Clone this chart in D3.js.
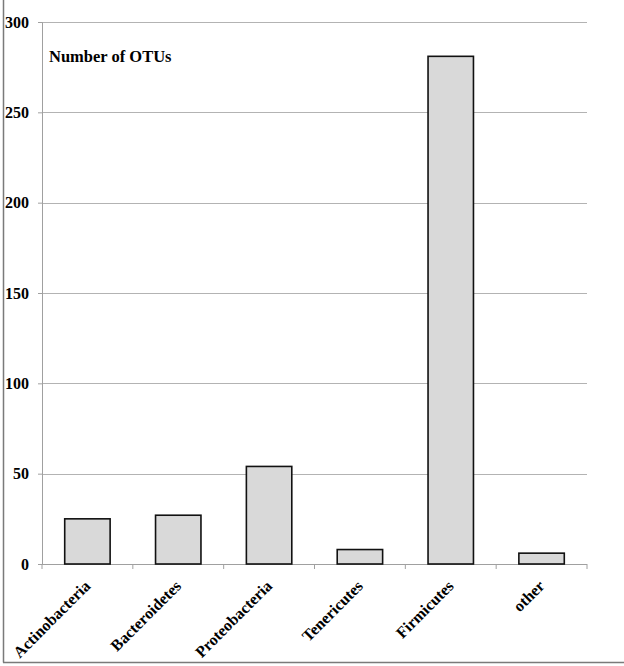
<!DOCTYPE html>
<html>
<head>
<meta charset="utf-8">
<script src="https://cdn.jsdelivr.net/npm/d3@7"></script>
<style>
  body { margin: 0; background: #fff; }
  text { font-family: "Liberation Serif", "Times New Roman", serif; font-weight: bold; fill: #000; }
</style>
</head>
<body>
<div id="chart"></div>
<script>
// data
var phyla = ["Actinobacteria", "Bacteroidetes", "Proteobacteria", "Tenericutes", "Firmicutes", "other"];
var otuCounts = [25, 27, 54, 8, 281, 6];
var yTicks = [0, 50, 100, 150, 200, 250, 300];

var svgWidth = 624;
var svgHeight = 666;

var margin = { top: 22, right: 37, bottom: 102, left: 42 };
var width = svgWidth - margin.left - margin.right;
var height = svgHeight - margin.top - margin.bottom;

var svg = d3.select("#chart")
  .append("svg")
  .attr("width", svgWidth)
  .attr("height", svgHeight);

// outer frame: only left and bottom edges show
svg.append("line")
  .attr("x1", 3.5).attr("x2", 3.5)
  .attr("y1", 0).attr("y2", 662.5)
  .attr("stroke", "#7a7a7a").attr("stroke-width", 1.5);
svg.append("line")
  .attr("x1", 3).attr("x2", svgWidth)
  .attr("y1", 662.5).attr("y2", 662.5)
  .attr("stroke", "#7a7a7a").attr("stroke-width", 1.5);

var chartGroup = svg.append("g")
  .attr("transform", `translate(${margin.left}, ${margin.top})`);

var xScale = d3.scaleBand()
  .domain(phyla)
  .range([0, width])
  .paddingInner(0.5)
  .paddingOuter(0.25);

var yScale = d3.scaleLinear()
  .domain([0, 300])
  .range([height, 0]);

// gridlines
chartGroup.selectAll(".grid")
  .data(yTicks.filter(d => d > 0))
  .enter()
  .append("line")
  .attr("class", "grid")
  .attr("x1", 0)
  .attr("x2", width)
  .attr("y1", d => Math.round(yScale(d)) + 0.5)
  .attr("y2", d => Math.round(yScale(d)) + 0.5)
  .attr("stroke", "#b3b3b3")
  .attr("stroke-width", 1);

// y axis
var leftAxis = d3.axisLeft(yScale)
  .tickValues(yTicks)
  .tickSize(4)
  .tickPadding(9);

var yAxis = chartGroup.append("g").call(leftAxis);
yAxis.select(".domain").attr("stroke", "#a0a0a0");
yAxis.selectAll(".tick line").attr("stroke", "#a0a0a0");
yAxis.selectAll(".tick text")
  .style("font-family", "Liberation Serif, serif")
  .style("font-weight", "bold")
  .style("font-size", "16px");

// x axis: ticks sit between categories
var xTickPos = d3.range(phyla.length + 1).map(i => i * width / phyla.length);

chartGroup.append("line")
  .attr("x1", 0).attr("x2", width)
  .attr("y1", height + 0.5).attr("y2", height + 0.5)
  .attr("stroke", "#a0a0a0");

chartGroup.selectAll(".xtick")
  .data(xTickPos)
  .enter()
  .append("line")
  .attr("class", "xtick")
  .attr("x1", d => d).attr("x2", d => d)
  .attr("y1", height).attr("y2", height + 5)
  .attr("stroke", "#a0a0a0");

// bars
chartGroup.selectAll(".bar")
  .data(phyla)
  .enter()
  .append("rect")
  .attr("class", "bar")
  .attr("x", d => xScale(d))
  .attr("y", (d, i) => yScale(otuCounts[i]))
  .attr("width", xScale.bandwidth())
  .attr("height", (d, i) => height - yScale(otuCounts[i]))
  .attr("fill", "#d9d9d9")
  .attr("stroke", "#111")
  .attr("stroke-width", 1.6);

// category labels, rotated
chartGroup.selectAll(".xlabel")
  .data(phyla)
  .enter()
  .append("text")
  .attr("class", "xlabel")
  .attr("transform", d => `translate(${xScale(d) + xScale.bandwidth() / 2 + 4}, ${height + 23}) rotate(-45)`)
  .attr("text-anchor", "end")
  .style("font-size", "16px")
  .text(d => d);

// title inside the plot
chartGroup.append("text")
  .attr("x", 7)
  .attr("y", 40)
  .style("font-size", "16.5px")
  .text("Number of OTUs");
</script>
</body>
</html>
